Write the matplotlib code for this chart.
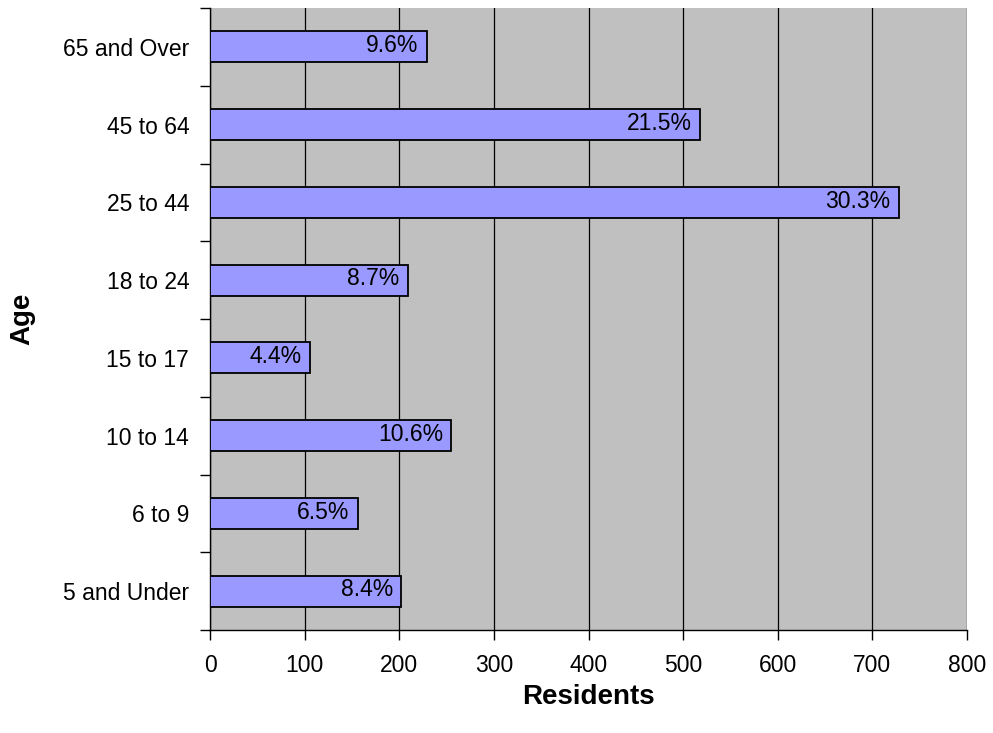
import numpy as np
import matplotlib.pyplot as plt

plt.rcParams['font.family'] = ['Liberation Sans', 'DejaVu Sans']

# age groups, bottom to top
ages = ["5 and Under", "6 to 9", "10 to 14", "15 to 17",
        "18 to 24", "25 to 44", "45 to 64", "65 and Over"]
residents = [202, 156, 255, 106, 209, 728, 518, 229]
shares = ["8.4%", "6.5%", "10.6%", "4.4%", "8.7%", "30.3%", "21.5%", "9.6%"]

fig = plt.figure(figsize=(9.93, 7.33), dpi=100)
ax = fig.add_axes([0.2115, 0.1405, 0.7623, 0.8485])
ax.set_facecolor("#C0C0C0")

y = np.arange(len(ages))
ax.barh(y, residents, height=0.4, color="#9999FF",
        edgecolor="black", linewidth=1.3, zorder=3)

for yi, val, txt in zip(y, residents, shares):
    ax.annotate(txt, (val, yi), xytext=(-6, 1), textcoords="offset points",
                ha="right", va="center", fontsize=16.5, zorder=4)

ax.set_xlim(0, 800)
ax.set_ylim(-0.5, len(ages) - 0.5)
ax.set_xticks(np.arange(0, 801, 100))
ax.xaxis.grid(True, color="black", linewidth=0.9, zorder=1)
ax.set_axisbelow(True)

ax.set_yticks(y)
ax.set_yticklabels(ages)
ax.set_yticks(np.arange(-0.5, len(ages), 1), minor=True)
ax.tick_params(axis="y", which="major", length=0, pad=15, labelsize=16.5)
ax.tick_params(axis="y", which="minor", length=7, width=1, direction="out")
ax.tick_params(axis="x", length=7, width=1, direction="out", pad=10, labelsize=16.5)

for side in ["top", "right"]:
    ax.spines[side].set_visible(False)
for side in ["left", "bottom"]:
    ax.spines[side].set_linewidth(1)
    ax.spines[side].set_color("black")

ax.set_xlabel("Residents", fontsize=20, fontweight="bold", labelpad=5)
ax.set_ylabel("Age", fontsize=20, fontweight="bold", labelpad=20)

fig.savefig("out.png", dpi=100)
